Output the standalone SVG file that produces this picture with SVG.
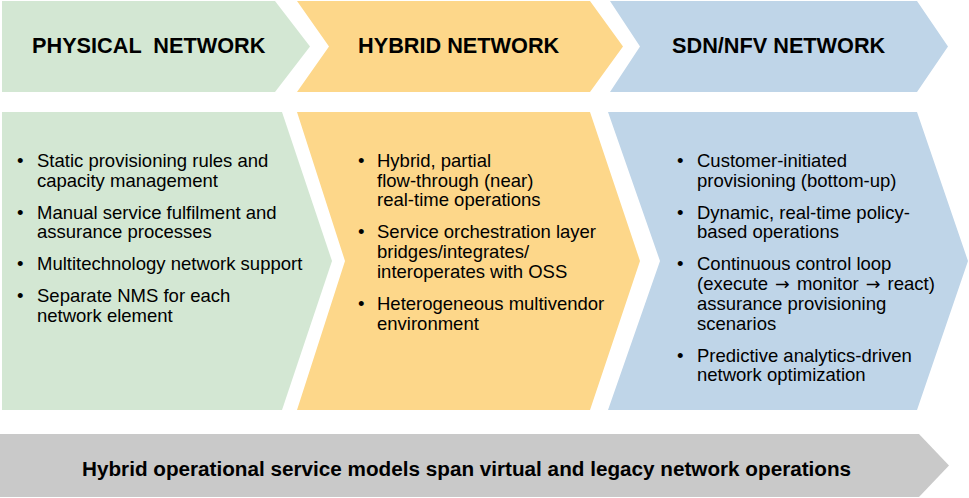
<svg xmlns="http://www.w3.org/2000/svg" width="969" height="498" viewBox="0 0 969 498">
<style>
.g{fill:#D3E7D3}
.y{fill:#FDD78A}
.b{fill:#BFD5E8}
.gr{fill:#C9C9C9}
.h{font-family:"Liberation Sans",Arial,sans-serif;font-weight:bold;font-size:21.7px;fill:#000;white-space:pre}
.t{font-family:"Liberation Sans",Arial,sans-serif;font-size:18.5px;fill:#000}
.p{white-space:pre}
.a{font-family:"DejaVu Sans",sans-serif;font-size:17.5px}
.f{font-family:"Liberation Sans",Arial,sans-serif;font-weight:bold;font-size:20.7px;fill:#000}
</style>
<rect width="969" height="498" fill="#fff"/>
<g id="header-physical">
<polygon class="g" points="2,1 275,1 310,46.5 275,92 2,92"/>
<text class="h" x="32" y="53">PHYSICAL  NETWORK</text>
</g>
<g id="header-hybrid">
<polygon class="y" points="297,1 590,1 623,46.5 590,92 297,92 329,46.5"/>
<text class="h" x="358" y="53">HYBRID NETWORK</text>
</g>
<g id="header-sdn">
<polygon class="b" points="610,1 917,1 948,46.5 917,92 610,92 640,46.5"/>
<text class="h" x="672" y="53">SDN/NFV NETWORK</text>
</g>
<g id="body-physical">
<polygon class="g" points="2,112 282,112 332,261 282,410 2,410"/>
<text class="t">
<tspan x="17" y="167">•</tspan><tspan x="37" y="167">Static provisioning rules and</tspan>
<tspan x="37" y="186.7">capacity management</tspan>
<tspan x="17" y="218.7">•</tspan><tspan x="37" y="218.7">Manual service fulfilment and</tspan>
<tspan x="37" y="238.4">assurance processes</tspan>
<tspan x="17" y="270.4">•</tspan><tspan x="37" y="270.4">Multitechnology network support</tspan>
<tspan x="17" y="302.4">•</tspan><tspan x="37" y="302.4">Separate NMS for each</tspan>
<tspan x="37" y="322.1">network element</tspan>
</text>
</g>
<g id="body-hybrid">
<polygon class="y" points="297,112 590,112 640,261 590,410 297,410 345,261"/>
<text class="t">
<tspan x="358" y="167">•</tspan><tspan x="377" y="167">Hybrid, partial</tspan>
<tspan x="377" y="186.7">flow-through (near)</tspan>
<tspan x="377" y="206.4">real-time operations</tspan>
<tspan x="358" y="238.4">•</tspan><tspan x="377" y="238.4">Service orchestration layer</tspan>
<tspan x="377" y="258.1">bridges/integrates/</tspan>
<tspan x="377" y="277.8">interoperates with OSS</tspan>
<tspan x="358" y="309.8">•</tspan><tspan x="377" y="309.8">Heterogeneous multivendor</tspan>
<tspan x="377" y="329.5">environment</tspan>
</text>
</g>
<g id="body-sdn">
<polygon class="b" points="608,112 917,112 968,261 917,410 608,410 660,261"/>
<text class="t">
<tspan x="677" y="167">•</tspan><tspan x="697" y="167">Customer-initiated</tspan>
<tspan x="697" y="186.7">provisioning (bottom-up)</tspan>
<tspan x="677" y="218.7">•</tspan><tspan x="697" y="218.7">Dynamic, real-time policy-</tspan>
<tspan x="697" y="238.4">based operations</tspan>
<tspan x="677" y="270.4">•</tspan><tspan x="697" y="270.4">Continuous control loop</tspan>
<tspan x="697" y="309.8">assurance provisioning</tspan>
<tspan x="697" y="329.5">scenarios</tspan>
<tspan x="677" y="361.5">•</tspan><tspan x="697" y="361.5">Predictive analytics-driven</tspan>
<tspan x="697" y="381.2">network optimization</tspan>
</text>
<text class="t p" x="697" y="290.1">(execute <tspan class="a" dx="2">→</tspan><tspan dx="2"> monitor </tspan><tspan class="a" dx="2">→</tspan><tspan dx="2"> react)</tspan></text>
</g>
<g id="footer-bar">
<polygon class="gr" points="0,434 919,434 949,465.5 919,497 0,497"/>
<text class="f" x="82" y="476">Hybrid operational service models span virtual and legacy network operations</text>
</g>
<g id="connectors"/>
</svg>
